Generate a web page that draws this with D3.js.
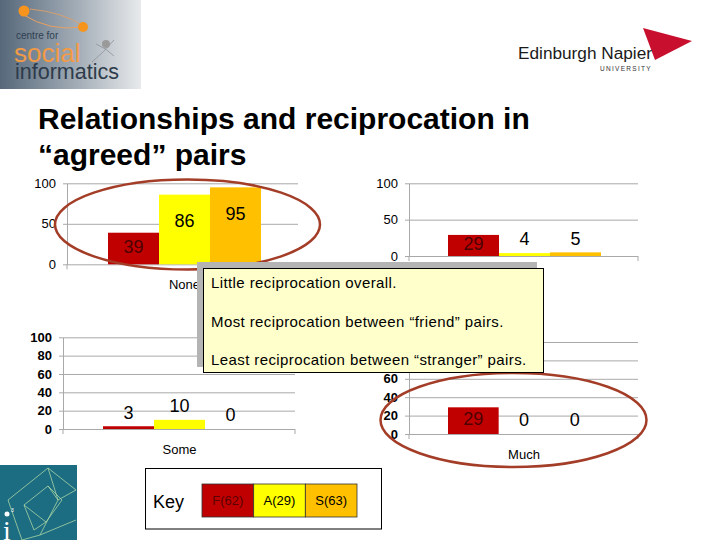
<!DOCTYPE html>
<html><head><meta charset="utf-8">
<script src="https://cdn.jsdelivr.net/npm/d3@7"></script>
<style>html,body{margin:0;padding:0;background:#fff;overflow:hidden}svg{display:block}</style>
</head><body><svg id="c" width="720" height="540"></svg>
<script>
const seriesNames = ["F(62)", "A(29)", "S(63)"];
const seriesColors = ["#c00000", "#ffff00", "#ffc000"];
const categories = ["None", "Little", "Some", "Much"];
const valuesNone = [39, 86, 95];
const valuesLittle = [29, 4, 5];
const valuesSome = [3, 10, 0];
const valuesMuch = [29, 0, 0];
const ticksTop = [0, 50, 100];
const ticksBottom = [0, 20, 40, 60, 80, 100];
const titleLines = ["Relationships and reciprocation in", "\u201cagreed\u201d pairs"];
const notes = ["Little reciprocation overall.", "Most reciprocation between \u201cfriend\u201d pairs.", "Least reciprocation between \u201cstranger\u201d pairs."];
const keyTitle = "Key";

const FONT = "'Liberation Sans', Arial, Helvetica, sans-serif";
const svg = d3.select("#c").attr("font-family", FONT);
svg.append("rect").attr("width", 720).attr("height", 540).attr("fill", "#fff");

// ---- top-left logo ----
const defs = svg.append("defs");
const lg = defs.append("linearGradient").attr("id", "lg").attr("x1", 0).attr("x2", 1).attr("y1", 0).attr("y2", 0);
lg.append("stop").attr("offset", 0).attr("stop-color", "#56687a");
lg.append("stop").attr("offset", 0.55).attr("stop-color", "#a3adb7");
lg.append("stop").attr("offset", 1).attr("stop-color", "#e8eaec");
svg.append("rect").attr("x", 0).attr("y", 0).attr("width", 141).attr("height", 89).attr("fill", "url(#lg)");
svg.append("path").attr("d", "M22,14 Q50,32 82,27").attr("fill", "none").attr("stroke", "#e8a060").attr("stroke-width", 1);
svg.append("path").attr("d", "M30,9 Q62,12 84,26").attr("fill", "none").attr("stroke", "#e8a060").attr("stroke-width", 0.8);
svg.append("path").attr("d", "M92,62 Q104,52 114,40").attr("fill", "none").attr("stroke", "#8e9399").attr("stroke-width", 0.8);
svg.append("path").attr("d", "M96,44 Q106,48 114,56").attr("fill", "none").attr("stroke", "#8e9399").attr("stroke-width", 0.8);
svg.append("circle").attr("cx", 24).attr("cy", 11).attr("r", 5.5).attr("fill", "#f7941d");
svg.append("circle").attr("cx", 83).attr("cy", 27).attr("r", 5).attr("fill", "#f7941d");
svg.append("circle").attr("cx", 106).attr("cy", 44).attr("r", 4).attr("fill", "#9a9a9a");
svg.append("text").attr("x", 16).attr("y", 38.5).attr("font-size", 10).attr("fill", "#2f3f52").text("centre for");
svg.append("text").attr("x", 14).attr("y", 61.5).attr("font-size", 26).attr("fill", "#f29a45").text("social");
svg.append("text").attr("x", 15).attr("y", 79).attr("font-size", 21.5).attr("fill", "#2e3b4b").text("informatics");

// ---- Napier logo ----
svg.append("polygon").attr("points", "643,28 692,41 655,60").attr("fill", "#c8102e");
svg.append("text").attr("x", 518).attr("y", 59).attr("font-size", 16).attr("fill", "#1a1a1a")
  .attr("textLength", 134).attr("lengthAdjust", "spacingAndGlyphs").text("Edinburgh Napier");
svg.append("text").attr("x", 600).attr("y", 70.5).attr("font-size", 6.5).attr("letter-spacing", 1.3).attr("fill", "#333").text("UNIVERSITY");

// ---- bottom-left logo ----
svg.append("rect").attr("x", 0).attr("y", 465).attr("width", 77).attr("height", 75).attr("fill", "#1c6c82");
const wire = svg.append("g").attr("stroke", "#a8d6a4").attr("stroke-width", 0.8).attr("fill", "none");
wire.append("path").attr("d", "M8,500 L48,468 L76,490 M8,500 L22,540 M48,468 L58,500 L76,490 M58,500 L40,535 L22,540 M40,535 L76,520");
wire.append("path").attr("d", "M24,505 L48,486 L62,500 L46,522 Z M24,505 L34,530 M46,522 L34,530 M48,486 L58,500");
svg.append("circle").attr("cx", 7).attr("cy", 514).attr("r", 2.5).attr("fill", "#fff");
svg.append("text").attr("x", 3).attr("y", 540).attr("font-size", 28).attr("font-family", "'Liberation Serif', serif").attr("fill", "#fff").text("i");
svg.append("text").attr("x", 11).attr("y", 512).attr("font-size", 5).attr("fill", "#fff").text("3");

// ---- title ----
titleLines.forEach((t, i) => {
  svg.append("text").attr("x", 38).attr("y", 129 + i * 35.5).attr("font-size", 30).attr("font-weight", "bold").attr("fill", "#000").text(t);
});

// ---- panels ----
const panels = [
  {cat: categories[0], vals: valuesNone, ticks: ticksTop, ax: 67, gx: 298, yt: 183.3, yb: 264.3, bx: [108, 261], bold: false},
  {cat: categories[1], vals: valuesLittle, ticks: ticksTop, ax: 409, gx: 638, yt: 183.3, yb: 256, bx: [448, 601], bold: false},
  {cat: categories[2], vals: valuesSome, ticks: ticksBottom, ax: 63, gx: 295, yt: 337.3, yb: 429, bx: [103, 256], bold: true},
  {cat: categories[3], vals: valuesMuch, ticks: ticksBottom, ax: 409, gx: 638, yt: 342, yb: 434, bx: [448, 600], bold: true}
];
const GRID = "#a9a9a9";
panels.forEach(p => {
  const y = d3.scaleLinear().domain([0, 100]).range([p.yb, p.yt]);
  const x = d3.scaleBand().domain(seriesNames).range(p.bx);
  const g = svg.append("g");
  const axis = d3.axisLeft(y).tickValues(p.ticks).tickSize(-(p.gx - p.ax)).tickSizeOuter(0).tickPadding(11);
  const ag = g.append("g").attr("transform", `translate(${p.ax},0)`).call(axis)
    .attr("font-family", FONT).attr("font-size", 13);
  ag.select(".domain").attr("stroke", GRID);
  ag.selectAll(".tick line").attr("stroke", GRID);
  ag.selectAll(".tick text").attr("fill", "#000").attr("font-weight", p.bold ? "bold" : null);
  ag.selectAll(".tick").append("line").attr("x1", -4).attr("x2", 0).attr("stroke", GRID);
  g.append("line").attr("x1", p.gx).attr("x2", p.gx).attr("y1", p.yb).attr("y2", p.yb + 5).attr("stroke", GRID);
  g.append("line").attr("x1", p.ax).attr("x2", p.ax).attr("y1", p.yb).attr("y2", p.yb + 5).attr("stroke", GRID);
  g.selectAll("rect.bar").data(p.vals).join("rect").attr("class", "bar")
    .attr("x", (d, i) => x(seriesNames[i])).attr("width", x.bandwidth())
    .attr("y", d => y(d)).attr("height", d => p.yb - y(d))
    .attr("fill", (d, i) => seriesColors[i]);
  g.selectAll("text.val").data(p.vals).join("text").attr("class", "val")
    .attr("x", (d, i) => x(seriesNames[i]) + x.bandwidth() / 2)
    .attr("y", d => { const h = p.yb - y(d); return h > 15 ? y(d) + Math.min(26, h / 2 - 1.5) : y(d) - 14; })
    .attr("dy", "0.35em").attr("text-anchor", "middle").attr("font-size", 18)
    .attr("fill", (d, i) => (i === 0 && p.yb - y(d) > 15) ? "#4d0000" : "#000")
    .text(d => d);
  g.append("text").attr("x", (p.bx[0] + p.bx[1]) / 2).attr("y", p.yb + 25).attr("text-anchor", "middle")
    .attr("font-size", 13).attr("fill", "#000").text(p.cat);
});

// ---- ellipses ----
const ELL = "#a33d27";
svg.append("ellipse").attr("cx", 187.5).attr("cy", 224.5).attr("rx", 132.5).attr("ry", 45)
  .attr("fill", "none").attr("stroke", ELL).attr("stroke-width", 2.5);
svg.append("ellipse").attr("cx", 513.5).attr("cy", 420).attr("rx", 133).attr("ry", 47)
  .attr("fill", "none").attr("stroke", ELL).attr("stroke-width", 2.5);

// ---- callout ----
svg.append("rect").attr("x", 197).attr("y", 262).attr("width", 340).attr("height", 105).attr("fill", "#b4b4b4");
svg.append("rect").attr("x", 203.5).attr("y", 268.5).attr("width", 340).attr("height", 104).attr("fill", "#ffffcc").attr("stroke", "#000").attr("stroke-width", 1);
notes.forEach((t, i) => {
  svg.append("text").attr("x", 211).attr("y", 288 + i * 38.7).attr("font-size", 15).attr("letter-spacing", 0.4).attr("fill", "#000").text(t);
});

// ---- key ----
svg.append("rect").attr("x", 145.5).attr("y", 468.5).attr("width", 236).attr("height", 60.5).attr("fill", "#fff").attr("stroke", "#000");
svg.append("text").attr("x", 153).attr("y", 508).attr("font-size", 18).attr("fill", "#000").text(keyTitle);
const kx = d3.scaleBand().domain(seriesNames).range([202, 357]);
const kg = svg.append("g");
kg.selectAll("rect").data(seriesNames).join("rect")
  .attr("x", d => kx(d)).attr("y", 484).attr("width", kx.bandwidth()).attr("height", 33)
  .attr("fill", (d, i) => seriesColors[i]).attr("stroke", "#333").attr("stroke-width", 0.8);
kg.selectAll("text").data(seriesNames).join("text")
  .attr("x", d => kx(d) + kx.bandwidth() / 2).attr("y", 505).attr("text-anchor", "middle")
  .attr("font-size", 13).attr("fill", (d, i) => i === 0 ? "#5a0000" : "#000").text(d => d);
</script></body></html>
